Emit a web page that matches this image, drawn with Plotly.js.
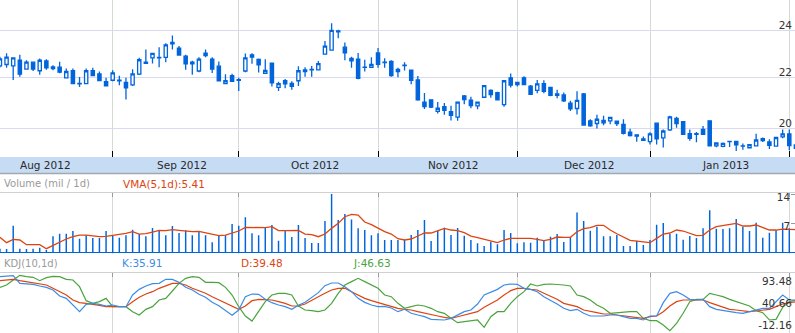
<!DOCTYPE html>
<html><head><meta charset="utf-8">
<script src="https://cdn.plot.ly/plotly-3.0.1.min.js"></script>
<style>html,body{margin:0;padding:0;background:#fff;}#chart{width:795px;height:333px;}</style>
</head><body><div id="chart"></div>
<script>
// trading days shown (Aug 9 2012 .. Feb 4 2013)
const aug2012=[9,10,13,14,15,16,17,20,21,22,23,24,27,28,29,30,31];
const sep2012=[4,5,6,7,10,11,12,13,14,17,18,19,20,21,24,25,26,27,28];
const oct2012=[1,2,3,4,5,8,9,10,11,12,15,16,17,18,19,22,23,24,25,26,31];
const nov2012=[1,2,5,6,7,8,9,12,13,14,15,16,19,20,21,23,26,27,28,29,30];
const dec2012=[3,4,5,6,7,10,11,12,13,14,17,18,19,20,21,24,26,27,28,31];
const jan2013=[2,3,4,7,8,9,10,11,14,15,16,17,18,22,23,24,25,28,29,30,31];
const feb2013=[1,4];
const monthStarts=['2012-09-04','2012-10-01','2012-11-01','2012-12-03','2013-01-02','2013-02-01'];
const monthNames=['Aug 2012','Sep 2012','Oct 2012','Nov 2012','Dec 2012','Jan 2013'];

const openP=[22.46,22.52,22.46,22.70,22.33,22.62,22.26,22.67,22.42,22.41,21.97,22.26,21.74,21.73,22.26,22.13,21.81,
21.87,21.87,21.78,21.68,22.12,22.62,22.80,22.82,22.82,23.47,23.22,22.87,22.62,22.25,22.90,22.75,22.45,21.73,22.06,
21.89,22.25,22.93,22.74,22.15,22.58,21.58,21.85,21.74,21.85,22.22,22.30,22.30,22.96,23.13,23.97,23.26,22.78,22.75,22.40,22.40,
23.01,22.62,22.65,22.22,22.47,22.28,21.88,21.00,21.09,20.64,20.82,20.63,20.42,21.24,21.08,20.85,21.19,21.46,21.37,20.90,21.97,
21.69,21.97,21.63,21.46,21.73,21.58,21.32,21.28,20.96,20.75,21.32,20.28,20.18,20.30,20.28,20.18,20.15,19.86,19.76,19.61,
19.51,20.19,19.65,19.94,20.37,20.25,19.80,19.78,19.96,20.28,19.36,19.34,19.51,19.52,19.35,19.29,19.36,19.55,19.50,19.35,19.68,
19.79,19.39];
const highP=[22.85,23.00,22.81,22.93,22.70,22.64,22.77,22.74,22.49,22.64,22.35,22.35,22.00,22.35,22.39,22.23,21.97,
22.28,22.05,21.97,22.32,22.80,23.16,22.99,23.26,23.43,23.77,23.31,22.93,22.68,22.83,23.16,22.83,22.65,22.12,22.14,
21.97,22.99,23.00,22.77,22.74,22.58,21.81,21.92,21.83,22.45,22.41,22.46,22.67,23.53,24.32,24.03,23.46,22.85,23.01,22.72,22.83,
23.22,22.78,22.70,22.38,22.61,22.28,22.04,21.36,21.09,21.00,20.96,20.86,21.00,21.28,21.21,21.00,21.68,21.51,21.41,21.85,22.15,
21.81,22.03,21.68,21.88,21.87,21.58,21.49,21.38,21.05,21.43,21.36,20.34,20.51,20.47,20.41,20.29,20.34,19.98,19.76,19.70,
19.85,20.19,19.96,20.47,20.43,20.25,19.96,19.86,20.09,20.28,19.49,19.48,19.53,19.52,19.44,19.41,19.80,19.66,19.60,19.66,19.96,
19.96,19.42];
const lowP=[22.40,22.38,21.88,22.01,22.30,22.25,22.10,22.30,22.28,22.16,21.95,21.71,21.60,21.71,22.03,21.83,21.62,
21.83,21.67,21.10,21.64,22.09,22.54,22.56,22.41,22.61,23.16,22.90,22.30,22.10,22.20,22.83,22.17,21.82,21.71,21.81,
21.44,22.20,22.55,22.19,22.15,21.62,21.44,21.55,21.49,21.64,22.01,22.01,22.28,22.93,23.10,23.65,22.70,22.38,21.91,22.23,22.39,
22.39,22.38,22.01,21.99,22.27,21.71,21.05,20.73,20.77,20.56,20.51,20.29,20.28,20.92,20.76,20.72,21.17,21.17,21.09,20.82,21.58,
21.62,21.67,21.28,21.35,21.35,21.23,21.15,21.00,20.65,20.52,20.12,20.06,19.99,20.11,20.15,20.09,19.77,19.70,19.51,19.53,
19.41,19.41,19.30,19.90,20.02,19.76,19.54,19.49,19.75,19.33,19.31,19.31,19.32,19.17,19.22,19.27,19.34,19.50,19.24,19.33,19.63,
19.20,19.22];
const closeP=[22.76,22.83,22.80,22.12,22.62,22.33,22.70,22.38,22.35,22.20,22.23,21.73,21.72,22.26,22.06,21.86,21.64,
22.17,21.85,21.56,22.13,22.72,22.57,22.99,22.80,23.36,23.40,22.92,22.55,22.55,22.75,23.00,22.33,21.85,21.85,21.83,
21.87,22.80,22.83,22.51,22.27,21.76,21.73,21.72,21.62,22.26,22.30,22.32,22.56,23.30,24.00,23.93,23.01,22.67,21.95,22.41,22.52,
22.53,22.60,22.06,22.32,22.49,21.87,21.09,20.82,20.80,20.76,20.68,20.49,21.00,21.10,20.86,21.00,21.65,21.29,21.09,21.85,21.67,
21.78,21.69,21.30,21.72,21.42,21.26,21.26,21.05,20.74,21.07,20.12,20.09,20.34,20.20,20.41,20.27,19.81,19.73,19.71,19.56,
19.79,19.61,19.90,20.43,20.18,19.78,19.63,19.80,19.78,19.36,19.46,19.45,19.52,19.39,19.36,19.40,19.57,19.62,19.38,19.66,19.79,
19.37,19.27];

// volume (millions) and 5-day volume moving average
const volume=[0.80,0.72,6.36,0.80,0.72,0.80,1.05,0.50,3.78,4.42,4.42,5.07,3.22,4.02,3.38,3.38,5.07,
4.02,3.46,4.02,5.39,4.34,3.78,5.79,5.23,4.02,6.28,4.59,5.23,4.02,5.07,4.02,2.33,4.02,4.02,6.76,
6.36,8.37,4.51,4.02,5.79,6.52,2.74,5.23,3.62,6.52,3.38,2.17,2.17,7.48,14.0,7.72,9.17,7.88,5.71,5.31,4.02,
4.51,2.90,2.90,2.90,2.90,4.10,5.31,7.72,2.65,5.15,5.87,4.10,5.79,3.94,2.90,2.09,1.45,2.49,1.85,5.31,4.59,
2.09,2.33,2.25,3.46,2.74,3.70,4.34,2.41,3.54,9.57,7.48,5.15,6.11,3.78,3.78,4.10,1.45,1.45,2.74,1.69,
2.90,6.60,7.00,4.34,4.42,2.98,3.86,3.38,5.71,10.06,5.63,5.55,5.71,7.96,6.11,5.07,7.08,3.46,4.67,5.31,7.08,
5.71,5.00];
const vma=[3.54,2.25,3.06,2.90,1.77,1.77,1.77,0.80,1.61,2.41,3.14,3.70,4.10,4.10,3.94,3.70,3.78,
4.10,4.26,4.51,4.91,4.34,4.42,4.83,5.23,5.15,5.39,5.23,4.99,4.91,4.99,4.67,4.34,3.94,4.10,4.51,
5.07,5.95,5.95,5.87,5.87,6.11,5.15,5.15,5.15,5.23,4.34,4.18,3.70,4.34,5.71,6.92,8.53,9.09,8.93,7.24,6.60,
5.71,4.91,4.34,3.20,2.90,3.14,3.86,4.59,4.59,5.23,5.71,5.31,5.15,4.67,3.86,3.46,3.06,2.65,2.25,2.90,3.30,
3.30,3.30,3.30,3.06,2.74,3.06,3.62,3.54,3.54,4.91,5.63,5.87,6.44,6.44,5.31,4.42,3.70,2.82,2.65,2.41,
2.25,3.30,4.34,4.59,5.31,5.07,4.51,3.94,4.02,5.31,6.11,6.36,6.76,6.92,6.28,6.28,6.52,5.95,5.31,5.31,5.55,
5.47,5.41];

// KDJ(10,1d)
const kLine=[96.0,97.6,98.4,79.7,78.9,77.3,73.2,69.9,63.4,48.7,43.0,26.7,10.4,28.3,30.8,28.3,24.3,
26.7,22.6,22.6,51.2,65.0,73.2,78.9,79.7,89.5,89.5,82.1,69.9,63.4,52.8,45.5,33.2,25.1,13.7,1.5,
14.5,47.1,53.6,52.8,40.6,32.4,26.7,22.6,16.1,25.9,33.2,44.6,56.9,74.0,80.5,80.5,71.5,59.3,43.0,33.2,26.7,
22.6,23.4,19.4,10.4,16.2,6.4,2.3,-1.8,-8.3,-9.9,-9.9,-5.9,2.3,10.4,14.5,29.2,51.2,57.7,65.0,75.6,78.1,
77.3,67.5,65.0,59.3,47.1,38.9,29.2,18.6,12.9,16.2,6.4,-0.2,-0.2,-0.2,2.3,2.3,-1.8,-5.9,-5.9,-9.9,
-0.2,-0.2,32.4,55.3,59.3,51.2,40.6,38.9,40.6,22.6,16.2,12.9,9.6,8.0,6.4,10.4,14.5,18.6,18.6,34.9,51.2,
38.9,38.9];
const dLine=[86.2,87.9,89.5,86.2,83.8,81.3,79.7,75.6,67.5,59.3,51.2,39.0,32.4,30.8,29.2,25.9,22.6,
22.6,22.6,22.6,34.9,45.5,53.6,59.3,67.5,73.2,79.7,79.7,75.6,67.5,61.8,55.3,47.1,39.0,30.8,22.6,
16.1,24.3,37.3,40.6,40.6,39.0,34.9,30.8,24.3,24.3,29.2,39.0,47.1,55.3,63.4,67.5,67.5,59.3,51.2,43.0,37.3,
32.4,29.2,22.6,18.6,16.2,14.5,10.4,6.4,2.3,-0.2,-3.4,-5.9,-2.0,2.3,6.4,10.4,21.0,30.8,39.0,51.2,61.8,
67.5,67.5,65.0,63.4,55.3,48.7,40.6,30.8,26.7,22.6,14.5,10.4,8.0,4.7,4.7,2.3,-0.2,-1.8,-3.4,-5.9,
-1.8,-0.2,10.4,24.3,34.9,39.0,39.0,39.0,39.0,32.4,26.7,21.0,16.1,14.5,12.1,10.4,12.1,14.5,16.1,22.6,29.2,
32.4,34.9];
const jLine=[69.9,75.6,87.9,99.3,96.0,94.4,86.2,93.6,96.8,96.0,89.5,87.9,71.5,37.3,30.8,34.9,43.0,
22.6,22.6,22.6,10.4,2.3,16.1,22.6,39.0,43.0,61.0,79.7,92.0,96.0,94.4,82.1,82.1,81.3,69.9,51.2,
22.6,-0.2,-12.5,10.4,34.9,51.2,55.3,55.3,51.2,24.3,14.5,12.9,10.4,14.5,30.8,55.3,75.6,83.8,92.0,83.8,75.6,
67.5,51.2,47.1,30.8,18.6,22.6,26.7,24.3,18.6,10.4,6.4,-5.9,-16.5,-14.0,-11.6,-9.9,-27.9,-1.8,10.4,10.4,30.8,
47.1,59.3,78.1,73.2,77.3,78.1,77.3,75.6,73.2,51.2,47.1,39.0,26.7,18.6,6.4,8.0,10.4,10.4,10.4,-5.9,
-11.6,-11.6,-22.2,-36.0,-18.1,6.4,34.9,40.6,40.6,55.3,51.2,47.1,40.6,34.9,30.8,24.3,12.9,8.0,-9.9,-8.3,21.0,
34.9,38.9];

const pad=n=>String(n).padStart(2,'0');
const dates=[];
[['2012-08',aug2012],['2012-09',sep2012],['2012-10',oct2012],['2012-11',nov2012],['2012-12',dec2012],['2013-01',jan2013],['2013-02',feb2013]]
  .forEach(([m,ds])=>ds.forEach(d=>dates.push(m+'-'+pad(d))));

const BLUE='#0064dc', RED='#dd4411', KBLUE='#3c8ce6', GREEN='#4aa43e';
const H=333;
const py=px=>1-px/H;
const FONT='DejaVu Sans, Verdana, sans-serif';

const traces=[
  {type:'candlestick',x:dates,open:openP,high:highP,low:lowP,close:closeP,xaxis:'x',yaxis:'y',
   whiskerwidth:0,hoverinfo:'skip',
   increasing:{line:{color:BLUE,width:1.3},fillcolor:'#ffffff'},
   decreasing:{line:{color:BLUE,width:1.3},fillcolor:BLUE}},
  {type:'bar',x:dates,y:volume,xaxis:'x2',yaxis:'y2',width:0.22,marker:{color:BLUE,line:{width:0}},hoverinfo:'skip'},
  {type:'scatter',mode:'lines',x:dates,y:vma,xaxis:'x2',yaxis:'y2',line:{color:RED,width:1.3},hoverinfo:'skip'},
  {type:'scatter',mode:'lines',x:dates,y:jLine,xaxis:'x3',yaxis:'y3',line:{color:GREEN,width:1.2},hoverinfo:'skip'},
  {type:'scatter',mode:'lines',x:dates,y:dLine,xaxis:'x3',yaxis:'y3',line:{color:RED,width:1.2},hoverinfo:'skip'},
  {type:'scatter',mode:'lines',x:dates,y:kLine,xaxis:'x3',yaxis:'y3',line:{color:KBLUE,width:1.2},hoverinfo:'skip'}
];

const xr=[0.01,119.86];
const subX=(anchor)=>({type:'category',anchor:anchor,domain:[0,1],range:xr,tickvals:monthStarts,
  showticklabels:false,side:'top',ticks:'inside',ticklen:4,tickcolor:'#999',tickwidth:1,
  showline:true,linecolor:'#d0d0d0',linewidth:1,showgrid:true,gridcolor:'#d8d8d8',gridwidth:1,zeroline:false,fixedrange:true});

const monthPos=[6.89,27.39,47.44,68.34,88.84,109.34];
const annotations=monthNames.map((t,i)=>({xref:'x',yref:'paper',x:monthPos[i],y:py(165),text:t,showarrow:false,
  xanchor:'center',yanchor:'middle',font:{family:FONT,size:10.5,color:'#2a2a2a'}}));
const lab=(x,y,t,c,s)=>({xref:'paper',yref:'paper',x:x/795,y:py(y),text:t,showarrow:false,xanchor:'left',yanchor:'middle',
  borderpad:0,font:{family:FONT,size:s,color:c}});
annotations.push(lab(3,183.5,'Volume (mil / 1d)','#9a9a9a',10));
annotations.push(lab(122,183.5,'VMA(5,1d):5.41',RED,10.5));
annotations.push(lab(3,263.3,'KDJ(10,1d)','#9a9a9a',10));
annotations.push(lab(121,263.3,'K:35.91',KBLUE,10.5));
annotations.push(lab(240,263.3,'D:39.48',RED,10.5));
annotations.push(lab(352,263.3,'J:46.63',GREEN,10.5));

const layout={
  width:795,height:333,margin:{l:0,r:0,t:0,b:0},paper_bgcolor:'#ffffff',plot_bgcolor:'rgba(0,0,0,0)',
  showlegend:false,font:{family:FONT,size:10.5,color:'#333'},
  xaxis:{type:'category',anchor:'y',domain:[0,1],range:xr,tickvals:monthStarts,showticklabels:false,
    ticks:'inside',ticklen:6,tickcolor:'#000',tickwidth:1,showgrid:true,gridcolor:'#d3dbd3',gridwidth:1,
    zeroline:false,showline:false,rangeslider:{visible:false},fixedrange:true},
  yaxis:{type:'log',domain:[py(157),1],range:[1.277842,1.404693],side:'right',tickvals:[20,22,24],ticktext:['20','22','24'],
    ticklabelposition:'inside',ticklabeloverflow:'allow',ticks:'',ticklabelshift:-5,showgrid:true,gridcolor:'#d9d9ef',gridwidth:1,
    zeroline:false,showline:false,tickfont:{family:FONT,size:10.5,color:'#333'},fixedrange:true},
  xaxis2:subX('y2'),
  yaxis2:{domain:[py(253.5),py(193)],range:[-0.36,14.25],side:'right',tickvals:[7,14],ticktext:['7','14'],
    ticklabelposition:'inside',ticklabeloverflow:'allow',ticks:'inside',ticklen:4,tickcolor:'#999',ticklabelshift:3,
    showgrid:false,zeroline:true,zerolinecolor:BLUE,zerolinewidth:1,showline:false,
    tickfont:{family:FONT,size:10.5,color:'#333'},fixedrange:true},
  xaxis3:subX('y3'),
  yaxis3:{domain:[0,py(273)],range:[-41.75,104.97],side:'right',tickvals:[-12.16,40.66,93.48],ticktext:['-12.16','40.66','93.48'],
    ticklabelposition:'inside',ticklabeloverflow:'allow',ticks:'',ticklabelshift:4,showgrid:false,zeroline:false,showline:false,
    tickfont:{family:FONT,size:10.5,color:'#333'},fixedrange:true},
  shapes:[
    {type:'rect',xref:'paper',yref:'paper',x0:0,x1:1,y0:py(173),y1:py(157),fillcolor:'#c6dcf4',line:{width:0},layer:'below'},
    {type:'line',xref:'paper',yref:'paper',x0:0,x1:1,y0:py(173.5),y1:py(173.5),line:{color:'#a2a8ae',width:1.5}}
  ],
  annotations:annotations
};
Plotly.newPlot('chart',traces,layout,{staticPlot:true,displayModeBar:false});
</script></body></html>
